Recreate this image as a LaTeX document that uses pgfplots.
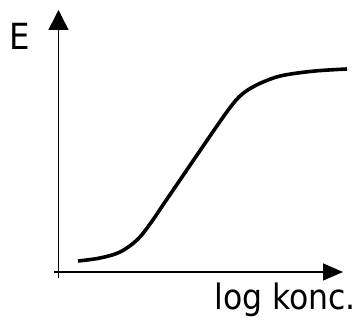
\documentclass[border=0pt]{standalone}
\usepackage{fontspec}
\setmainfont{DejaVu Sans Condensed}
\usepackage{pgfplots}
\pgfplotsset{compat=1.18}
\usetikzlibrary{arrows.meta}
\begin{document}
\begin{tikzpicture}
\begin{axis}[
  x=1pt, y=1pt,
  xmin=0, xmax=357, ymin=0, ymax=326,
  hide axis, clip=false,
]
% page extent
\path (axis cs:0,0) rectangle (axis cs:357,326);
% axes with arrow heads
\draw[line width=1.6pt, -{Triangle[length=20pt,width=20pt]}]
  (axis cs:58.5,48) -- (axis cs:58.5,316);
\draw[line width=1.6pt, -{Triangle[length=20pt,width=17pt]}]
  (axis cs:54,54) -- (axis cs:343,54);
% dose-response curve
\addplot[black, line width=3.6pt, smooth, tension=0.6] coordinates {
  (78,65) (100,68) (120,74) (137,86) (150,102) (165,124) (180,146)
  (195,168) (208,187) (219,203) (229,217) (239,229) (251,238)
  (268,246) (285,251) (315,255) (347,257)
};
\node[anchor=base west, inner sep=0pt, font=\fontsize{36}{40}\selectfont]
  at (axis cs:9,276) {E};
\node[anchor=base east, inner sep=0pt, font=\fontsize{35}{40}\selectfont]
  at (axis cs:356,16) {log konc.};
\end{axis}
\end{tikzpicture}
\end{document}
